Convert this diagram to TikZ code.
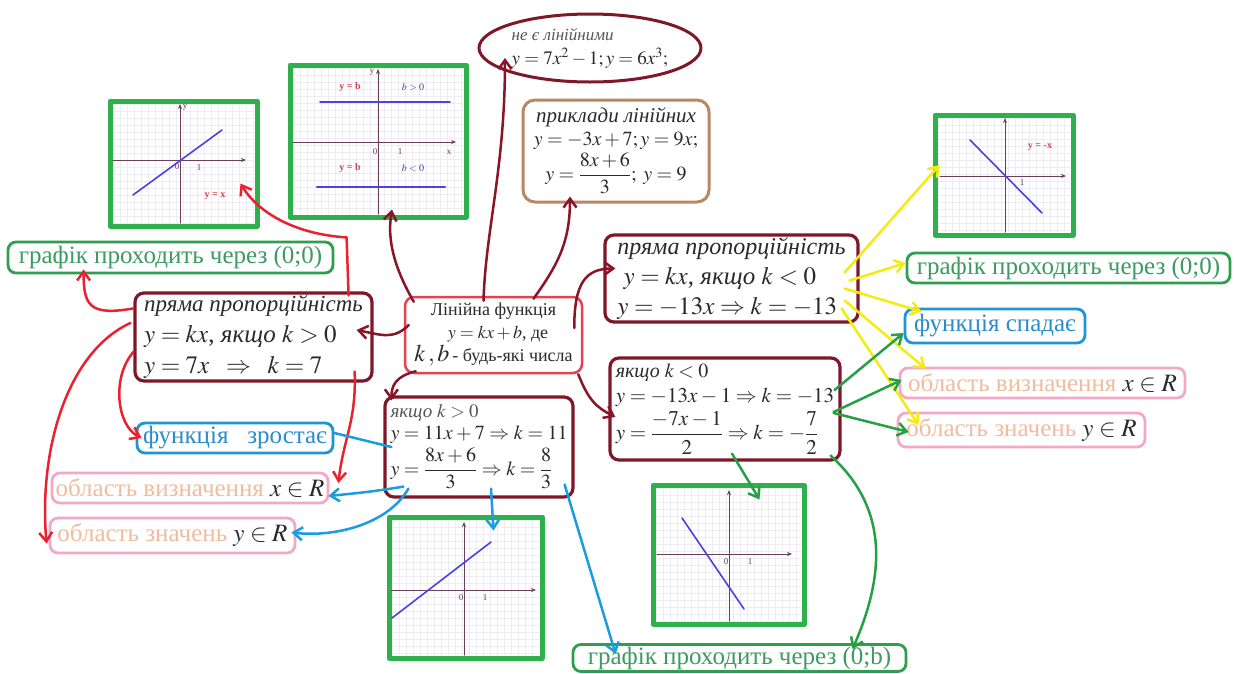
\documentclass[tikz,border=0pt]{standalone}
\usepackage{amsmath}
\usepackage{mathptmx}
\usepackage[no-math]{fontspec}
\setmainfont{Liberation Serif}
\usetikzlibrary{arrows.meta,calc,shapes.geometric}
\definecolor{cMar}{HTML}{7E1727}
\definecolor{cMarA}{HTML}{8A1428}
\definecolor{cRedB}{HTML}{E2434F}
\definecolor{cRedA}{HTML}{EA2230}
\definecolor{cBrown}{HTML}{BA8766}
\definecolor{cGf}{HTML}{2EB04C}
\definecolor{cGb}{HTML}{2F9E4F}
\definecolor{cGt}{HTML}{3C9A62}
\definecolor{cBb}{HTML}{1E95D6}
\definecolor{cBt}{HTML}{2C8CCB}
\definecolor{cBA}{HTML}{1A9CE0}
\definecolor{cPb}{HTML}{F3A9C6}
\definecolor{cPt}{HTML}{F1BC9E}
\definecolor{cYel}{HTML}{F3EC0E}
\definecolor{cGA}{HTML}{26A045}
\definecolor{cTxt}{HTML}{2A2A2A}
\definecolor{cGray}{HTML}{555555}
\definecolor{cAx}{HTML}{6B3E5B}
\definecolor{cLine}{HTML}{4B42E0}
\definecolor{cGrid}{HTML}{ECECF2}
\definecolor{cLab}{HTML}{D8404A}
\definecolor{cLab2}{HTML}{3A3F8A}
\newcommand{\fsz}[2]{\fontsize{#1}{#2}\selectfont}
\newcommand{\grd}[4]{\begin{scope}\clip (#1,#2) rectangle (#3,#4);
  \foreach \i in {0,...,26}{\draw[gridl] ({#1+\i*7},#2) -- ({#1+\i*7},#4);
  \draw[gridl] (#1,{#2+\i*7}) -- (#3,{#2+\i*7});}\end{scope}}
\begin{document}
\begin{tikzpicture}[x=1pt,y=-1pt,line cap=round,line join=round,
  mbox/.style={draw=cMar,line width=3.2pt,rounded corners=9pt,fill=white,text=cTxt,inner sep=2pt},
  lbl/.style={rounded corners=8pt,line width=2.8pt,fill=white,inner sep=1pt,font={\fsz{25}{27}}},
  gbox/.style={lbl,draw=cGb,text=cGt},
  bbox/.style={lbl,draw=cBb,text=cBt},
  pbox/.style={lbl,draw=cPb,text=cPt},
  gframe/.style={draw=cGf,line width=5pt,fill=white,inner sep=0pt},
  gridl/.style={draw=cGrid,line width=0.5pt},
  axln/.style={draw=cAx,line width=1pt,-{Stealth[length=5pt,width=4pt]}},
  gline/.style={draw=cLine,line width=1.6pt},
  glab/.style={text=cAx,font={\fsz{9}{10}},inner sep=0pt},
  tlab/.style={text=cLab,font={\fsz{10}{11}\bfseries},inner sep=0pt},
  tlab2/.style={text=cLab2,font={\fsz{10}{11}},inner sep=0pt},
  arr/.style={line width=2.5pt,-{Straight Barb[length=9pt,width=13pt]}},
  amar/.style={arr,draw=cMarA},
  ared/.style={arr,draw=cRedA},
  ablu/.style={arr,draw=cBA},
  ayel/.style={arr,draw=cYel},
  agrn/.style={arr,draw=cGA}]
\fill[white] (0,0) rectangle (1234,673);
\useasboundingbox (0,0) rectangle (1234,673);

% ---------- graphs ----------
\node[gframe,minimum width=147,minimum height=125] (tg1) at (183.5,163.5) {};
\grd{113}{104}{254}{223}
\draw[axln] (113,160) -- (246,160);
\draw[axln] (180,223) -- (180,104);
\draw[gline] (133,195) -- (222,130);
\node[glab] (tg1o) at (177,167) {0};
\node[glab] (tg1a) at (199,168) {1};
\node[glab] (tg1y) at (185,107) {y};
\node[tlab] (tg1l) at (215,196) {y = x};

\node[gframe,minimum width=176,minimum height=152] (tg2) at (378,141) {};
\grd{293}{68}{463}{214}
\draw[axln] (293,142) -- (456,142);
\draw[axln] (378,214) -- (378,69);
\draw[gline] (320,102) -- (450,102);
\draw[gline,line width=2.2pt] (317,187) -- (445,187);
\node[tlab] (tg2l1) at (350,87) {y = b};
\node[tlab2] (tg2b1) at (413,87) {$b>0$};
\node[tlab] (tg2l2) at (350,168) {y = b};
\node[tlab2] (tg2b2) at (413,168) {$b<0$};
\node[glab] (tg2o) at (375,152) {0};
\node[glab] (tg2a) at (400,152) {1};
\node[glab] (tg2x) at (449,152) {x};
\node[glab] (tg2y) at (372,72) {y};

\node[gframe,minimum width=138,minimum height=120] (rg) at (1004,175) {};
\grd{938}{118}{1070}{232}
\draw[axln] (940,176) -- (1066,176);
\draw[axln] (1005,232) -- (1005,118);
\draw[gline] (970,140) -- (1042,213);
\node[tlab] (rgl) at (1040,147) {y = -x};
\node[glab] (rga) at (1022,183) {1};

\node[gframe,minimum width=153,minimum height=141] (blg) at (465.5,587.5) {};
\grd{392}{520}{539}{655}
\draw[axln] (391,590) -- (536,590);
\draw[axln] (464,655) -- (464,522);
\draw[gline] (392,618) -- (491,542);
\node[glab] (blgo) at (461,598) {0};
\node[glab] (blga) at (485,598) {1};

\node[gframe,minimum width=151,minimum height=139] (brg) at (728.5,554.5) {};
\grd{656}{488}{801}{621}
\draw[axln] (657,554) -- (792,554);
\draw[axln] (729,621) -- (729,490);
\draw[gline] (682,518) -- (744,609);
\node[glab] (brgo) at (726,562) {0};
\node[glab] (brga) at (750,562) {1};

% ---------- top texts ----------
\node[ellipse,draw=cMar,line width=3pt,minimum width=222,minimum height=68,inner sep=-4pt,align=left,text=cTxt,font={\fsz{19}{21}}] (ell) at (590,48)
  {{\color{cGray}\itshape\fsz{17}{19}не є лінійними}\\[3pt] $y=7x^2-1; y=6x^3;$};
\node[draw=cBrown,line width=3pt,rounded corners=12pt,fill=white,minimum width=186,minimum height=102,align=center,text=cTxt,inner sep=1pt,font={\fsz{20}{23}}] (brn) at (616,151)
  {{\itshape\fsz{21}{23}приклади лінійних}\\ $y=-3x+7; y=9x;$\\[2pt] $y=\dfrac{8x+6}{3};\; y=9$};

% ---------- main boxes ----------
\node[draw=cRedB,line width=2.5pt,rounded corners=9pt,fill=white,minimum width=177,minimum height=76,align=center,text=cTxt,inner sep=1pt,font={\fsz{18}{23}}] (cbox) at (493.5,335)
  {Лінійна функція\\ \ \ $y=kx+b$, де\\ {\fsz{24}{24}$k\,,b$}\,- будь-які числа};
\node[mbox,minimum width=237,minimum height=88,align=left,inner sep=1pt,font={\fsz{25}{31}}] (lbox) at (253.5,337)
  {{\itshape\fsz{23}{26}пряма пропорційність}\\ $y=kx$, \textit{якщо} $k>0$\\ $y=7x\;\;\Rightarrow\;\;k=7$};
\node[mbox,minimum width=253,minimum height=87,align=left,inner sep=1pt,font={\fsz{25}{30}}] (rbox) at (731.5,278.5)
  {{\itshape\fsz{24}{26}пряма пропорційність}\\ \ $y=kx$, \textit{якщо} $k<0$\\ $y=-13x\Rightarrow k=-13$};
\node[mbox,minimum width=230,minimum height=102,align=left,inner sep=1pt,font={\fsz{21}{23}\thickmuskip=4mu\medmuskip=3mu}] (kneg) at (725,409)
  {{\fsz{20}{20}\itshape якщо $k<0$}\\[2pt] $y=-13x-1\Rightarrow k=-13$\\[4pt] $y=\dfrac{-7x-1}{2}\Rightarrow k=-\dfrac{7}{2}$};
\node[mbox,minimum width=188,minimum height=100,align=left,inner sep=1pt,font={\fsz{20}{21}\thickmuskip=4mu\medmuskip=3mu}] (kpos) at (479,447)
  {{\fsz{19}{19}\itshape\color{cGray} якщо $k>0$}\\[1pt] $y=11x+7\Rightarrow k=11$\\[3pt] $y=\dfrac{8x+6}{3}\Rightarrow k=\dfrac{8}{3}$};

% ---------- label boxes ----------
\node[gbox,minimum width=325,minimum height=31] (lg00) at (170.5,257.5) {графік проходить через (0;0)};
\node[gbox,minimum width=323,minimum height=30] (rg00) at (1068.5,268) {графік проходить через (0;0)};
\node[bbox,minimum width=180,minimum height=34] (fsp) at (995,326) {функція спадає};
\node[pbox,minimum width=285,minimum height=30] (rov) at (1042.5,383) {область визначення {\color{cTxt}$x\in R$}};
\node[pbox,minimum width=247,minimum height=34] (roz) at (1021.5,430) {область значень {\color{cTxt}$y\in R$}};
\node[bbox,minimum width=196,minimum height=30] (fzr) at (235,438) {функція \ \ зростає};
\node[pbox,minimum width=276,minimum height=30] (lov) at (190,488) {область визначення {\color{cTxt}$x\in R$}};
\node[pbox,minimum width=245,minimum height=35] (loz) at (172.5,535.5) {область значень {\color{cTxt}$y\in R$}};
\node[gbox,minimum width=333,minimum height=27] (bg0b) at (739.5,658) {графік проходить через (0;b)};

% ---------- maroon arrows from the central box ----------
\draw[amar] ($(cbox.north west)+(10,6)$) .. controls +(-20,-35) and +(-5,30) .. ($(tg2.south)+(14,-10)$);
\draw[amar] ($(cbox.north)+(-10,5)$) .. controls +(2,-70) and +(0,110) .. ($(ell.center)+(-85,10)$);
\draw[amar] ($(cbox.north)+(40,3)$) .. controls +(25,-35) and +(0,45) .. ($(brn.south)+(-46,-7)$);
\draw[amar] ($(cbox.east)+(-9,-7)$) .. controls +(0,-45) and +(-30,0) .. ($(rbox.west)+(12,-10)$);
\draw[amar] ($(cbox.west)+(5,-10)$) .. controls +(-15,15) and +(25,5) .. ($(lbox.east)+(-17,-7)$);
\draw[amar] ($(cbox.south west)+(12,-3)$) .. controls +(-20,5) and +(0,-15) .. ($(kpos.north west)+(8,5)$);
\draw[amar] ($(cbox.south east)+(-5,0)$) .. controls +(10,25) and +(-20,-10) .. ($(kneg.west)+(7,8)$);

% ---------- red arrows from the left box ----------
\draw[ared] ($(lbox.north west)+(0,17)$) .. controls +(-45,8) and +(0,35) .. ($(lg00.south west)+(77,-5)$);
\draw[ared] ($(lbox.north east)+(-25,4)$) -- ++(-2,-58) .. controls +(-50,-3) and +(18,30) .. ($(tg1.east)+(-19,20)$);
\draw[ared] ($(lbox.west)+(0,15)$) .. controls +(-22,25) and +(-25,-12) .. ($(fzr.west)+(6,0)$);
\draw[ared] ($(lbox.west)+(-3,-14)$) .. controls +(-65,30) and +(-8,-90) .. ($(loz.west)+(-2,8)$);
\draw[ared] ($(lbox.south east)+(-19,-11)$) .. controls +(2,50) and +(5,-45) .. ($(lov.east)+(9,-5)$);

% ---------- blue arrows from k>0 box ----------
\draw[draw=cBA,line width=2.5pt] ($(fzr.east)+(0,-5)$) -- ($(kpos.west)+(8,0)$);
\draw[ablu] ($(kpos.south west)+(20,-12)$) .. controls +(-30,5) and +(30,-3) .. ($(lov.east)+(-1,8)$);
\draw[ablu] ($(kpos.south west)+(25,-10)$) .. controls +(-20,35) and +(45,5) .. ($(loz.east)+(-5,-3)$);
\draw[ablu] ($(kpos.south)+(12,-10)$) -- ($(blg.north)+(28,16)$);
\draw[ablu] ($(kpos.south east)+(-10,-14)$) -- ($(bg0b.west)+(44,-4)$);

% ---------- yellow arrows ----------
\draw[ayel] ($(rbox.east)+(-15,-6)$) -- ($(rg.west)+(7,-10)$);
\draw[ayel] ($(rbox.east)+(-10,2)$) -- ($(rg00.west)+(0,-5)$);
\draw[ayel] ($(rbox.east)+(-15,10)$) -- ($(fsp.north west)+(18,4)$);
\draw[ayel] ($(rbox.east)+(-15,22)$) -- ($(rov.north west)+(27,2)$);
\draw[ayel] ($(rbox.east)+(-18,30)$) -- ($(roz.west)+(22,-5)$);

% ---------- green arrows ----------
\draw[agrn] ($(kneg.east)+(-7,-19)$) -- ($(fsp.west)+(0,7)$);
\draw[agrn] ($(kneg.east)+(-8,3)$) -- ($(rov.west)+(3,-3)$);
\draw[agrn] ($(kneg.east)+(-8,4)$) -- ($(roz.west)+(12,2)$);
\draw[agrn] ($(kneg.south)+(7,-8)$) -- ($(brg.north)+(31,17)$);
\draw[agrn] ($(kneg.south east)+(-11,-6)$) .. controls +(55,50) and +(35,-80) .. ($(bg0b.north)+(113,6)$);
\end{tikzpicture}
\end{document}
